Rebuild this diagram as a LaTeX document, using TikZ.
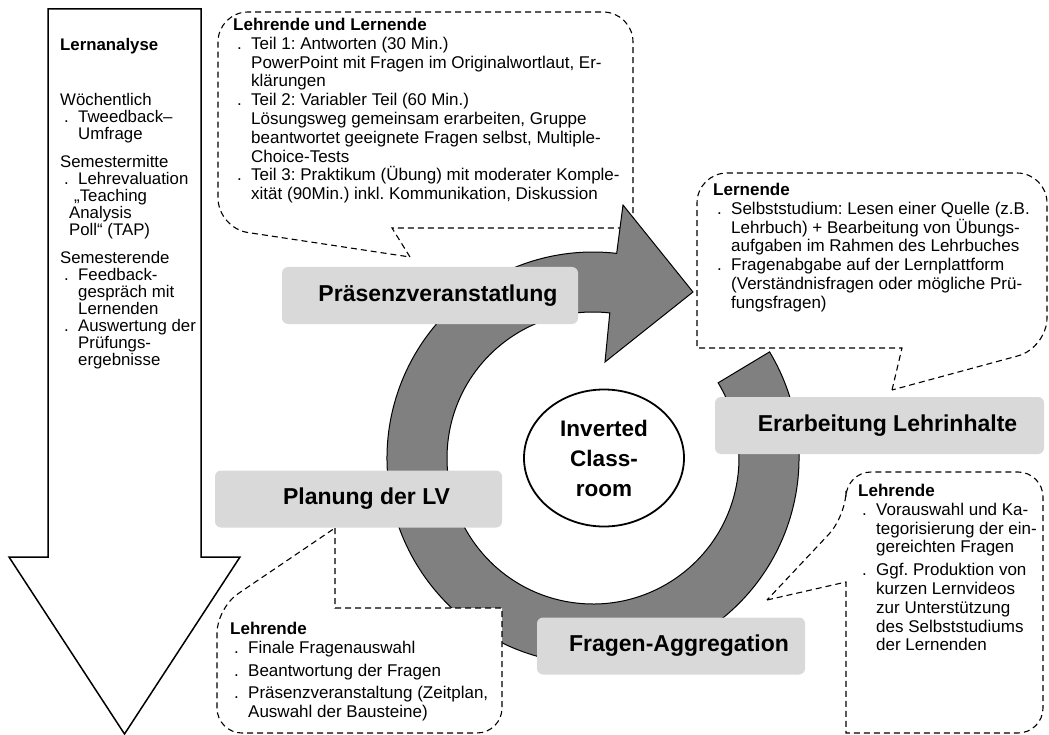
\documentclass[tikz,border=0pt]{standalone}
\usepackage{fontspec}
\setmainfont{Liberation Sans}
\usetikzlibrary{shapes.geometric,positioning}
\definecolor{boxgray}{HTML}{D9D9D9}
\definecolor{ringgray}{HTML}{808080}
\tikzset{box/.style={fill=boxgray,rounded corners=6pt,minimum height=57pt,inner sep=0pt,font=\fontsize{23}{27}\selectfont\bfseries}}
\tikzset{bub/.style={draw,fill=white,line width=1.1pt,dash pattern=on 6pt off 4pt}}
\tikzset{txt/.style={anchor=north west,align=left,inner sep=0pt,font=\fontsize{17}{18.8}\selectfont}}
\tikzset{ell/.style={ellipse,draw,line width=1.8pt,minimum width=160pt,minimum height=137pt,inner sep=0pt,align=center,font=\fontsize{22.5}{30}\selectfont\bfseries}}
\newcommand{\dotitem}{\makebox[18pt][l]{\hspace{4pt}.}}
\newcommand{\dotcont}{\hspace*{18pt}}
\frenchspacing

\begin{document}
\begin{tikzpicture}[x=1pt,y=-1pt]
    \useasboundingbox (0,0) rectangle (1049,735);

    \draw[line width=1.5pt,fill=white] (48,9) -- (201,9) -- (201,557) -- (240,557) -- (124.5,734) -- (9,557) -- (48,557) -- cycle;
    \node[txt,font=\fontsize{16.8}{17}\selectfont] (la) at (60,38) {\textbf{Lernanalyse}\\[38pt]
        Wöchentlich\\
        \dotitem Tweedback–\\
        \dotcont Umfrage\\[11pt]
        Semestermitte\\
        \dotitem Lehrevaluation\\
        \hspace*{14pt}„Teaching\\
        \hspace*{9pt}Analysis\\
        \hspace*{9pt}Poll“ (TAP)\\[11pt]
        Semesterende\\
        \dotitem Feedback-\\
        \dotcont gespräch mit\\
        \dotcont Lernenden\\
        \dotitem Auswertung der\\
        \dotcont Prüfungs-\\
        \dotcont ergebnisse};

    \draw[bub] (410,257) -- (392,228) -- (633,228) [rounded corners=30pt] -- (633,12) -- (218,12) -- (218,228) -- (410,257);
    \node[txt] (t1) at (233,18) {\textbf{Lehrende und Lernende}\\
        \dotitem Teil 1: Antworten (30 Min.)\\
        \dotcont PowerPoint mit Fragen im Originalwortlaut, Er-\\
        \dotcont klärungen\\
        \dotitem Teil 2: Variabler Teil (60 Min.)\\
        \dotcont Lösungsweg gemeinsam erarbeiten, Gruppe\\
        \dotcont beantwortet geeignete Fragen selbst, Multiple-\\
        \dotcont Choice-Tests\\
        \dotitem Teil 3: Praktikum (Übung) mit moderater Komple-\\
        \dotcont xität (90Min.) inkl. Kommunikation, Diskussion};

    \draw[bub] (892,390) -- (902,348) -- (697,348) [rounded corners=30pt] -- (697,173) -- (1047,173) -- (1047,348) -- (892,390);
    \node[txt] (t2) at (713,183) {\textbf{Lernende}\\
        \dotitem Selbststudium: Lesen einer Quelle (z.B.\\
        \dotcont Lehrbuch) + Bearbeitung von Übungs-\\
        \dotcont aufgaben im Rahmen des Lehrbuches\\
        \dotitem Fragenabgabe auf der Lernplattform\\
        \dotcont (Verständnisfragen oder mögliche Prü-\\
        \dotcont fungsfragen)};

    \begin{scope}[shift={(593,458)}]
        \draw[fill=ringgray,line width=1pt] (-31:206) arc[start angle=-31,end angle=276.6,radius=206] -- (30,-253) -- (100,-166) -- (12,-96) -- (276.6:146) arc[start angle=276.6,end angle=-31,radius=146] -- cycle;
    \end{scope}

    \draw[bub] (335,528) -- (335,608) -- (502,608) [rounded corners=25pt] -- (502,733) -- (217,733) -- (217,608) -- (335,528);
    \node[txt] (t3) at (230,622) {\textbf{Lehrende}\\
        \dotitem Finale Fragenauswahl\\[4pt]
        \dotitem Beantwortung der Fragen\\[4pt]
        \dotitem Präsenzveranstaltung (Zeitplan,\\
        \dotcont Auswahl der Bausteine)};

    \draw[bub] (767,600) -- (846,582) -- (846,733) [rounded corners=25pt] -- (1043,733) -- (1043,472) -- (846,472) -- (846,516) [sharp corners] -- (767,600);
    \node[txt] (t4) at (858,484) {\textbf{Lehrende}\\
        \dotitem Vorauswahl und Ka-\\
        \dotcont tegorisierung der ein-\\
        \dotcont gereichten Fragen\\[4pt]
        \dotitem Ggf. Produktion von\\
        \dotcont kurzen Lernvideos\\
        \dotcont zur Unterstützung\\
        \dotcont des Selbststudiums\\
        \dotcont der Lernenden};

    \node[box,minimum width=296pt] (p) at (430,295.5) {\hspace*{16pt}Präsenzveranstatlung};
    \node[box,minimum width=287pt] (pl) at (358.5,499) {\hspace*{16pt}Planung der LV};
    \node[box,minimum width=329pt] (er) at (879.5,425.5) {\hspace*{16pt}Erarbeitung Lehrinhalte};
    \node[box,minimum width=268pt] (fa) at (671,646) {\hspace*{16pt}Fragen-Aggregation};

    \node[ell] (ic) at (604,458) {Inverted\\Class-\\room};
\end{tikzpicture}
\end{document}
